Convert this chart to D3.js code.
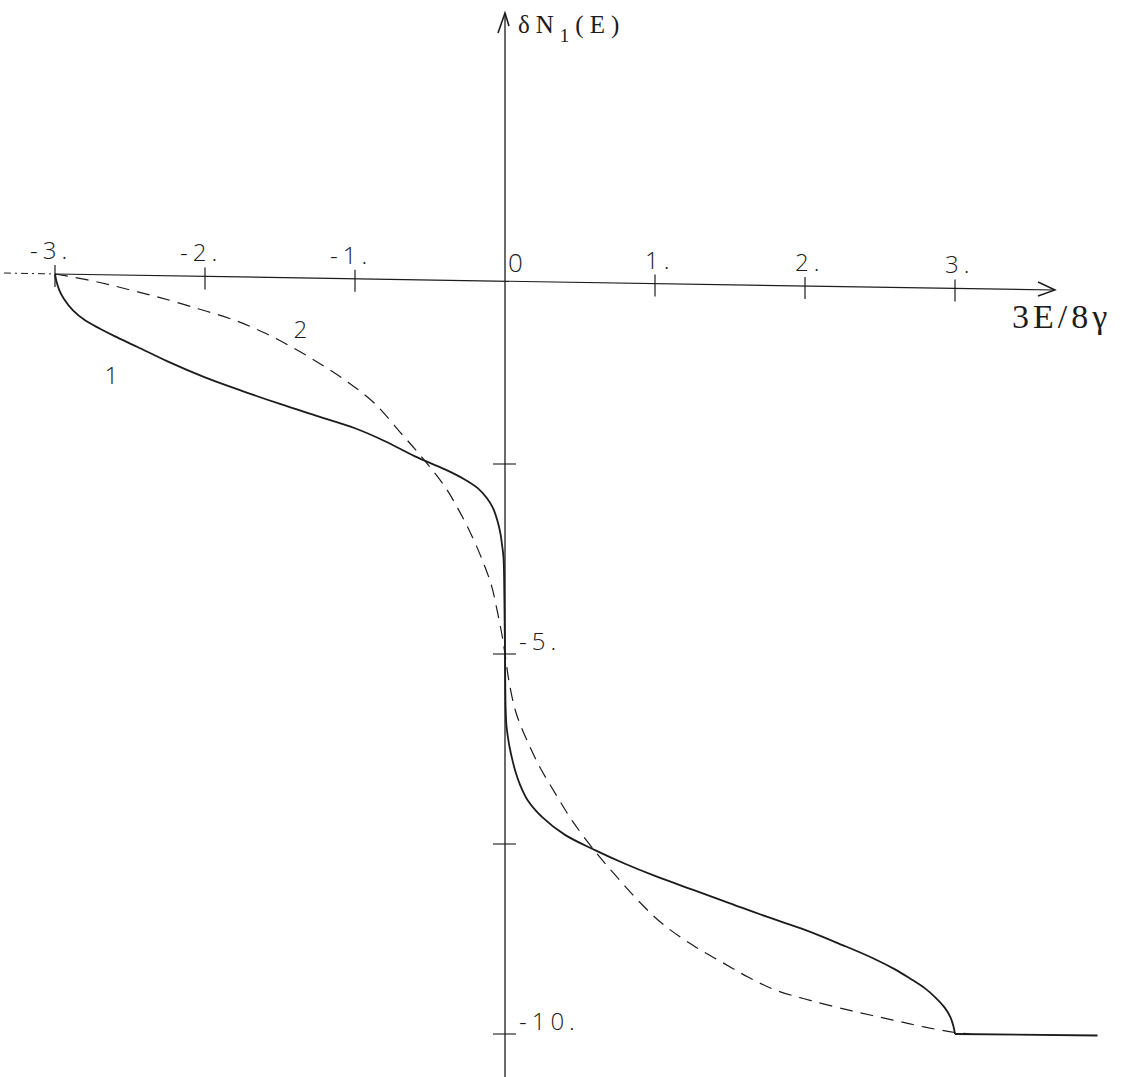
<!DOCTYPE html>
<html>
<head>
<meta charset="utf-8">
<script src="https://cdn.jsdelivr.net/npm/d3@7/dist/d3.min.js"></script>
<style>
  html, body { margin: 0; padding: 0; background: #ffffff; }
  svg { display: block; }
</style>
</head>
<body>
<svg id="chart" width="1123" height="1077"></svg>
<script>
// ---- data ----
const xTicks = [-3, -2, -1, 0, 1, 2, 3];
const xTickLabels = ["-3.", "-2.", "-1.", "0", "1.", "2.", "3."];
const yTicks = [-2.5, -5, -7.5, -10];
const yTickLabels = ["", "-5.", "", "-10."];

// curve 1 (solid) – smooth part
const curve1X = [-3, -2.99, -2.97, -2.94, -2.88, -2.8, -2.7, -2.6, -2.45, -2.25, -2.0, -1.75, -1.5, -1.25, -1.0, -0.8, -0.6, -0.4, -0.28, -0.18, -0.12, -0.08, -0.05, -0.03, -0.02, -0.01, -0.004, 0,
                 0.004, 0.01, 0.02, 0.03, 0.05, 0.07, 0.1, 0.15, 0.25, 0.4, 0.6, 0.8, 1.0, 1.25, 1.5, 1.75, 2.0, 2.25, 2.45, 2.6, 2.7, 2.8, 2.87, 2.93, 2.97, 2.99, 3.0];
const curve1Y = [0, -0.1, -0.22, -0.33, -0.48, -0.61, -0.72, -0.82, -0.96, -1.15, -1.36, -1.54, -1.71, -1.87, -2.03, -2.2, -2.4, -2.57, -2.69, -2.82, -2.95, -3.08, -3.25, -3.42, -3.56, -3.73, -4.3, -5,
                 -5.7, -5.95, -6.1, -6.22, -6.4, -6.55, -6.72, -6.92, -7.15, -7.38, -7.58, -7.76, -7.92, -8.1, -8.28, -8.46, -8.63, -8.83, -9.0, -9.15, -9.27, -9.4, -9.52, -9.65, -9.78, -9.9, -10];
// curve 1 – flat tail after x = 3
const tail1X = [3.0, 3.95];
const tail1Y = [-10, -10.02];

// curve 2 (dashed)
const curve2X = [-3, -2.8, -2.64, -2.48, -2.3, -2.04, -1.8, -1.62, -1.45, -1.25, -1.05, -0.87, -0.7, -0.55, -0.4, -0.31, -0.22, -0.15, -0.09, -0.05, -0.02, 0,
                 0.03, 0.07, 0.11, 0.15, 0.23, 0.34, 0.45, 0.61, 0.74, 0.9, 1.05, 1.25, 1.45, 1.62, 1.8, 2.04, 2.3, 2.48, 2.64, 2.8, 3.0, 3.1];
const curve2Y = [0, -0.07, -0.14, -0.22, -0.31, -0.46, -0.61, -0.76, -0.93, -1.16, -1.42, -1.7, -2.08, -2.42, -2.8, -3.1, -3.45, -3.77, -4.1, -4.45, -4.75, -5,
                 -5.4, -5.75, -5.97, -6.15, -6.48, -6.85, -7.2, -7.62, -7.92, -8.27, -8.55, -8.83, -9.06, -9.25, -9.42, -9.56, -9.69, -9.77, -9.84, -9.91, -9.98, -10.0];

const curveLabels = [{t: "1", x: -2.67, y: -1.45}, {t: "2", x: -1.41, y: -0.84}];

// ---- scales ----
const x = d3.scaleLinear().domain([-3, 3]).range([55, 955]);
const y = d3.scaleLinear().domain([0, -10]).range([274, 1034]);

const svg = d3.select("#chart");
const ink = "#1c1c1c";
const numFont = "'Open Sans', 'DejaVu Sans', sans-serif";
const typeFont = "'Liberation Serif', 'DejaVu Serif', serif";

// ---- x axis (slightly tilted, as drawn) ----
const xEnd = 3.667;             // arrow tip position in data units
const drop = 16;                // downward drift of the hand-drawn axis
const tilt = v => (x(v) - x(-3)) / (x(xEnd) - x(-3)) * drop;
const y0 = y(0), x0 = x(0);

svg.append("line")
  .attr("x1", 4).attr("x2", x(-3)).attr("y1", y0 - 1).attr("y2", y0)
  .attr("stroke", ink).attr("stroke-width", 1).attr("stroke-dasharray", "7,4,2,4");
svg.append("line")
  .attr("x1", x(-3)).attr("x2", x(xEnd)).attr("y1", y0).attr("y2", y0 + drop)
  .attr("stroke", ink).attr("stroke-width", 1.2);
const ax = x(xEnd), ay = y0 + drop;
svg.append("path")
  .attr("d", `M${ax - 17},${ay - 8} L${ax},${ay} L${ax - 17},${ay + 6}`)
  .attr("fill", "none").attr("stroke", ink).attr("stroke-width", 1.4);

svg.selectAll(".xtick").data(xTicks.filter(d => d !== 0)).join("line")
  .attr("class", "xtick")
  .attr("x1", d => x(d)).attr("x2", d => x(d))
  .attr("y1", d => y0 + tilt(d) - 9).attr("y2", d => y0 + tilt(d) + 13)
  .attr("stroke", ink).attr("stroke-width", 1.2);

svg.selectAll(".xlab").data(xTicks).join("text")
  .attr("class", "xlab")
  .attr("x", d => x(d) + (d < 0 ? -25 : (d === 0 ? 3 : -10)))
  .attr("y", d => y0 + tilt(d) - (d === 0 ? 9 : 15))
  .attr("font-family", numFont).attr("font-weight", 300)
  .attr("font-size", d => d === 0 ? 26 : 24).attr("letter-spacing", 5)
  .attr("fill", ink)
  .text((d, i) => xTickLabels[i]);

svg.append("text")
  .attr("x", 1012).attr("y", 328)
  .attr("font-family", typeFont).attr("font-size", 34)
  .attr("letter-spacing", 4)
  .attr("fill", ink)
  .text("3E/8γ");

// ---- y axis ----
svg.append("line")
  .attr("x1", x0).attr("x2", x0).attr("y1", 13).attr("y2", 1077)
  .attr("stroke", ink).attr("stroke-width", 1.3);
svg.append("path")
  .attr("d", `M${x0 - 7},${33} L${x0},${13} L${x0 + 4},${26}`)
  .attr("fill", "none").attr("stroke", ink).attr("stroke-width", 1.6);

svg.selectAll(".ytick").data(yTicks).join("line")
  .attr("class", "ytick")
  .attr("x1", x0 - 12).attr("x2", x0 + 11)
  .attr("y1", d => y(d)).attr("y2", d => y(d))
  .attr("stroke", ink).attr("stroke-width", 1.1);

svg.selectAll(".ylab").data(yTicks).join("text")
  .attr("class", "ylab")
  .attr("x", x0 + 14)
  .attr("y", d => y(d) - 4)
  .attr("font-family", numFont).attr("font-weight", 300)
  .attr("font-size", 24).attr("letter-spacing", 5)
  .attr("fill", ink)
  .text((d, i) => yTickLabels[i]);

const yl = svg.append("text")
  .attr("x", x0 + 13).attr("y", 33)
  .attr("font-family", typeFont).attr("font-size", 25)
  .attr("letter-spacing", 6)
  .attr("fill", ink);
yl.append("tspan").text("δN");
yl.append("tspan").attr("dy", 9).attr("font-size", 19).text("1");
yl.append("tspan").attr("dy", -9).text("(E)");

// ---- curves ----
const lineGen = d3.line().x(d => x(d[0])).y(d => y(d[1]));
const c1 = curve1X.map((v, i) => [v, curve1Y[i]]);
const t1 = tail1X.map((v, i) => [v, tail1Y[i]]);
const c2 = curve2X.map((v, i) => [v, curve2Y[i]]);

svg.append("path").datum(c2)
  .attr("d", lineGen.curve(d3.curveCatmullRom.alpha(0.5)))
  .attr("fill", "none").attr("stroke", ink).attr("stroke-width", 1.2)
  .attr("stroke-dasharray", "13,8");

svg.append("path").datum(c1)
  .attr("d", lineGen.curve(d3.curveCatmullRom.alpha(0.5)))
  .attr("fill", "none").attr("stroke", ink).attr("stroke-width", 1.8)
  .attr("stroke-linejoin", "round");

svg.append("path").datum(t1)
  .attr("d", lineGen.curve(d3.curveLinear))
  .attr("fill", "none").attr("stroke", ink).attr("stroke-width", 1.8);

svg.selectAll(".clab").data(curveLabels).join("text")
  .attr("class", "clab")
  .attr("x", d => x(d.x)).attr("y", d => y(d.y))
  .attr("font-family", numFont).attr("font-weight", 300)
  .attr("font-size", 24).attr("fill", ink)
  .text(d => d.t);
</script>
</body>
</html>
